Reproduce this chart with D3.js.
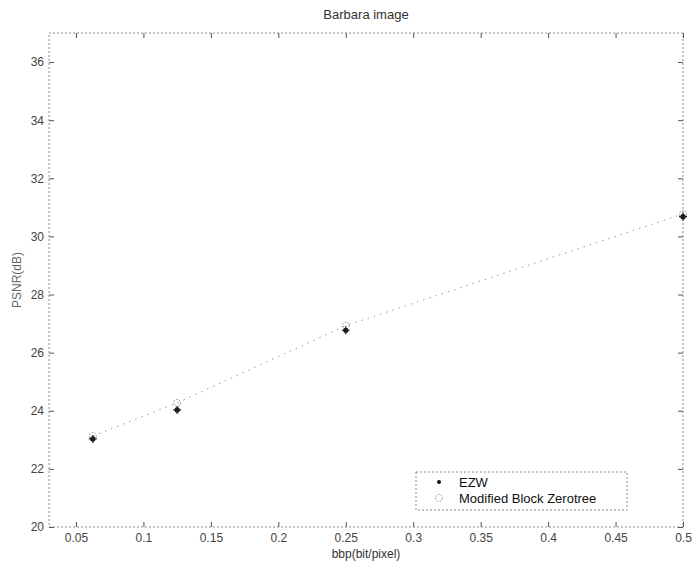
<!DOCTYPE html>
<html>
<head>
<meta charset="utf-8">
<script src="https://cdn.jsdelivr.net/npm/d3@7"></script>
<style>
  html, body { margin: 0; padding: 0; background: #fff; }
  svg { display: block; font-family: "Liberation Sans", Arial, Helvetica, sans-serif; }
</style>
</head>
<body>
<svg id="chart" width="696" height="570"></svg>
<script>
// ---- data ----
const bitRates = [0.0625, 0.125, 0.25, 0.5];
const ezwPsnr = [23.03, 24.03, 26.77, 30.68];
const mbzPsnr = [23.13, 24.27, 26.93, 30.77];
const seriesNames = ["EZW", "Modified Block Zerotree"];
const xTicks = [0.05, 0.1, 0.15, 0.2, 0.25, 0.3, 0.35, 0.4, 0.45, 0.5];
const xTickLabels = ["0.05", "0.1", "0.15", "0.2", "0.25", "0.3", "0.35", "0.4", "0.45", "0.5"];
const yTicks = [20, 22, 24, 26, 28, 30, 32, 34, 36];
const titleText = "Barbara image";
const xLabelText = "bbp(bit/pixel)";
const yLabelText = "PSNR(dB)";

// ---- layout ----
const L = 49, R = 683, T = 33, B = 527;
const svg = d3.select("#chart");
const x = d3.scaleLinear().domain([0.03, 0.5]).range([L, R]);
const y = d3.scaleLinear().domain([20, 37]).range([B, T]);

const boxColor = "#8a8a8a";
const textColor = "#333";

// frame (dotted, scanned look)
svg.append("rect")
  .attr("x", L).attr("y", T).attr("width", R - L).attr("height", B - T)
  .attr("fill", "none").attr("stroke", boxColor).attr("stroke-width", 1)
  .attr("stroke-dasharray", "2,2");

// axes (ticks inward, on all sides)
const xAxisB = d3.axisBottom(x).tickValues(xTicks)
  .tickFormat((d, i) => xTickLabels[i]).tickSizeInner(-5).tickSizeOuter(0).tickPadding(6);
const xAxisT = d3.axisTop(x).tickValues(xTicks).tickFormat("").tickSizeInner(-5).tickSizeOuter(0);
const yAxisL = d3.axisLeft(y).tickValues(yTicks).tickFormat(d3.format("d"))
  .tickSizeInner(-5).tickSizeOuter(0).tickPadding(5);
const yAxisR = d3.axisRight(y).tickValues(yTicks).tickFormat("").tickSizeInner(-5).tickSizeOuter(0);

function styleAxis(g) {
  g.select(".domain").remove();
  g.selectAll(".tick line").attr("stroke", "#555");
  g.selectAll(".tick text").attr("fill", "#444").style("font-size", "12px")
    .style("font-family", "'Liberation Sans', Arial, sans-serif");
}
svg.append("g").attr("transform", `translate(0,${B})`).call(xAxisB).call(styleAxis);
svg.append("g").attr("transform", `translate(0,${T})`).call(xAxisT).call(styleAxis);
svg.append("g").attr("transform", `translate(${L},0)`).call(yAxisL).call(styleAxis);
svg.append("g").attr("transform", `translate(${R},0)`).call(yAxisR).call(styleAxis);

// connecting dotted line
const line = d3.line().x(d => x(d[0])).y(d => y(d[1]));
svg.append("path")
  .datum(bitRates.map((b, i) => [b, mbzPsnr[i]]))
  .attr("d", line).attr("fill", "none")
  .attr("stroke", "#999").attr("stroke-width", 1).attr("stroke-dasharray", "1.5,5");

// MBZ circles
svg.append("g").selectAll("circle")
  .data(bitRates.map((b, i) => [b, mbzPsnr[i]]))
  .join("circle")
  .attr("cx", d => x(d[0])).attr("cy", d => y(d[1])).attr("r", 3.5)
  .attr("fill", "none").attr("stroke", "#888").attr("stroke-width", 1)
  .attr("stroke-dasharray", "1.5,1.5");

// EZW dots with cross
const ez = svg.append("g").selectAll("g")
  .data(bitRates.map((b, i) => [b, ezwPsnr[i]]))
  .join("g")
  .attr("transform", d => `translate(${x(d[0])},${y(d[1])})`);
ez.append("circle").attr("r", 2.6).attr("fill", "#111");
ez.append("path").attr("d", "M-4,0H4M0,-4V4").attr("stroke", "#222").attr("stroke-width", 1.2);

// title & labels
svg.append("text").attr("x", (L + R) / 2).attr("y", 19).attr("text-anchor", "middle")
  .attr("fill", textColor).style("font-size", "13px").text(titleText);
svg.append("text").attr("x", (L + R) / 2).attr("y", 558).attr("text-anchor", "middle")
  .attr("fill", textColor).style("font-size", "12px").text(xLabelText);
svg.append("text").attr("transform", "translate(21,280) rotate(-90)").attr("text-anchor", "middle")
  .attr("fill", "#666").style("font-size", "12px").text(yLabelText);

// legend
const lg = svg.append("g");
lg.append("rect").attr("x", 416).attr("y", 472).attr("width", 211).attr("height", 38)
  .attr("fill", "#fff").attr("stroke", boxColor).attr("stroke-width", 1).attr("stroke-dasharray", "2,2");
const legendY = [482, 498];
lg.append("circle").attr("cx", 439).attr("cy", legendY[0]).attr("r", 2).attr("fill", "#111");
lg.append("circle").attr("cx", 439).attr("cy", legendY[1]).attr("r", 3.5)
  .attr("fill", "none").attr("stroke", "#888").attr("stroke-dasharray", "1.5,1.5");
seriesNames.forEach((n, i) => {
  lg.append("text").attr("x", 459).attr("y", legendY[i]).attr("dy", "0.35em")
    .attr("fill", "#111").style("font-size", "13px").text(n);
});
</script>
</body>
</html>
